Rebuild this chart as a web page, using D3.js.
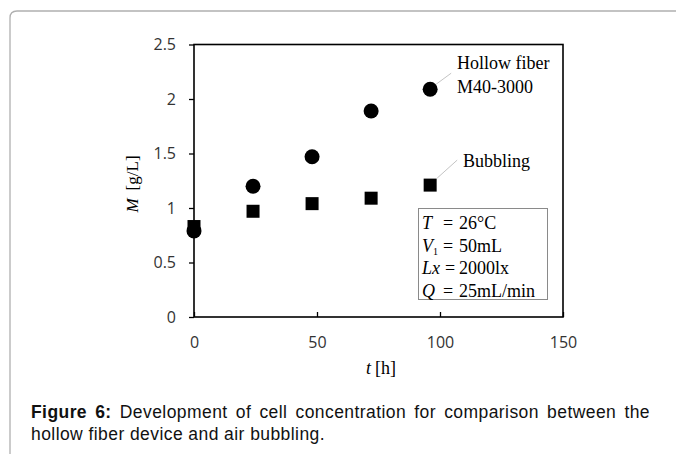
<!DOCTYPE html>
<html>
<head>
<meta charset="utf-8">
<script src="https://cdn.jsdelivr.net/npm/d3@7"></script>
<style>
  body { margin: 0; background: #fff; }
  svg { display: block; }
</style>
</head>
<body>
<svg></svg>
<script>
// hours
var hours = [0, 24, 48, 72, 96];
var hollowFiber = [0.79, 1.2, 1.47, 1.89, 2.09];
var bubbling = [0.83, 0.97, 1.04, 1.09, 1.21];
var xTicks = [0, 50, 100, 150];
var yTicks = [0, 0.5, 1, 1.5, 2, 2.5];
var conditions = [
  { v: "T", sub: "", val: "26\u00b0C" },
  { v: "V", sub: "1", val: "50mL" },
  { v: "Lx", sub: "", val: "2000lx" },
  { v: "Q", sub: "", val: "25mL/min" }
];

var width = 676, height = 454;
var svg = d3.select("svg").attr("width", width).attr("height", height);

// card border
svg.append("path")
  .attr("d", "M10,460 V18 Q10,11 17,11 H690")
  .attr("fill", "none")
  .attr("stroke", "#b0b0b0")
  .attr("stroke-width", 1.3);

var x = d3.scaleLinear().domain([0, 150]).range([194, 563]);
var y = d3.scaleLinear().domain([0, 2.5]).range([317, 44.5]);

var sans = "'Open Sans', 'DejaVu Sans', sans-serif";
var serif = "'Liberation Serif', 'Times New Roman', serif";

// frame
svg.append("rect")
  .attr("x", x(0)).attr("y", y(2.5))
  .attr("width", x(150) - x(0)).attr("height", y(0) - y(2.5))
  .attr("fill", "none").attr("stroke", "#000").attr("stroke-width", 1.6);

// y axis
var yAxis = svg.append("g")
  .attr("transform", "translate(" + x(0) + ",0)")
  .call(d3.axisLeft(y).tickValues(yTicks).tickSize(5).tickPadding(13)
    .tickFormat(d => String(d)));
yAxis.select(".domain").remove();
yAxis.selectAll("line").attr("stroke", "#000").attr("stroke-width", 1.3);
yAxis.selectAll("text").attr("font-family", sans).attr("font-size", 16)
  .attr("fill", "#333");

// x axis, ticks point inward
var xAxis = svg.append("g")
  .attr("transform", "translate(0," + y(0) + ")")
  .call(d3.axisBottom(x).tickValues(xTicks).tickSize(-5).tickPadding(20)
    .tickFormat(d => String(d)));
xAxis.select(".domain").remove();
xAxis.selectAll("line").attr("stroke", "#000").attr("stroke-width", 1.3);
xAxis.selectAll("text").attr("font-family", sans).attr("font-size", 16)
  .attr("fill", "#333");

// axis titles
var yt = svg.append("text")
  .attr("transform", "translate(138,184) rotate(-90)")
  .attr("text-anchor", "middle")
  .attr("font-family", serif).attr("font-size", 17);
yt.append("tspan").attr("font-style", "italic").text("M");
yt.append("tspan").attr("dx", 8).text("[g/L]");

var xt = svg.append("text")
  .attr("x", 381).attr("y", 374)
  .attr("text-anchor", "middle")
  .attr("font-family", serif).attr("font-size", 18);
xt.append("tspan").attr("font-style", "italic").text("t");
xt.append("tspan").attr("dx", 4).text("[h]");

// leader lines
svg.append("line")
  .attr("x1", x(96) + 6).attr("y1", y(2.09) - 5)
  .attr("x2", x(96) + 21).attr("y2", y(2.09) - 16)
  .attr("stroke", "#c4c4c4").attr("stroke-width", 1);
svg.append("line")
  .attr("x1", x(96) + 7).attr("y1", y(1.21) - 7)
  .attr("x2", x(96) + 27).attr("y2", y(1.21) - 25)
  .attr("stroke", "#c4c4c4").attr("stroke-width", 1);

// points
svg.append("g").selectAll("rect")
  .data(hours)
  .join("rect")
    .attr("x", (d, i) => x(d) - 6.5)
    .attr("y", (d, i) => y(bubbling[i]) - 6.5)
    .attr("width", 13).attr("height", 13)
    .attr("fill", "#000");

svg.append("g").selectAll("circle")
  .data(hours)
  .join("circle")
    .attr("cx", d => x(d))
    .attr("cy", (d, i) => y(hollowFiber[i]))
    .attr("r", 7.5)
    .attr("fill", "#000");

// series labels
svg.append("text").attr("x", 457).attr("y", 69)
  .attr("font-family", serif).attr("font-size", 18).text("Hollow fiber");
svg.append("text").attr("x", 457).attr("y", 93)
  .attr("font-family", serif).attr("font-size", 18).text("M40-3000");
svg.append("text").attr("x", 463).attr("y", 167)
  .attr("font-family", serif).attr("font-size", 18).text("Bubbling");

// conditions box
svg.append("rect")
  .attr("x", 418.5).attr("y", 208.5).attr("width", 129).attr("height", 91)
  .attr("fill", "#fff").attr("stroke", "#8a8a8a").attr("stroke-width", 1);

conditions.forEach(function(c, i) {
  var by = 229 + i * 22.5;
  var t = svg.append("text")
    .attr("x", 422).attr("y", by)
    .attr("font-family", serif).attr("font-size", 18);
  t.append("tspan").attr("font-style", "italic").text(c.v);
  if (c.sub) t.append("tspan").attr("font-size", 10).attr("dy", 3).text(c.sub);
  svg.append("text").attr("x", c.v === "Lx" ? 445 : 443).attr("y", by)
    .attr("font-family", serif).attr("font-size", 18).text("=");
  svg.append("text").attr("x", 459).attr("y", by)
    .attr("font-family", serif).attr("font-size", 18).text(c.val);
});

// caption, first line justified
var capFont = "'Liberation Sans', Arial, sans-serif";
var capLeft = 31, capRight = 650, capSize = 17.5;

var line2 = svg.append("text").attr("x", capLeft).attr("y", 440)
  .attr("font-family", capFont).attr("font-size", capSize)
  .attr("fill", "#111").text("hollow fiber device and air bubbling.");
var w2 = line2.node().getComputedTextLength();
var ls = (294 - w2) / line2.text().length;
line2.attr("letter-spacing", ls);

var cap = svg.append("text").attr("x", capLeft).attr("y", 418)
  .attr("font-family", capFont).attr("font-size", capSize)
  .attr("fill", "#111").attr("letter-spacing", ls);
cap.append("tspan").attr("font-weight", "bold").text("Figure 6:");
cap.append("tspan").text(" Development of cell concentration for comparison between the");
var w1 = cap.node().getComputedTextLength();
var nSpaces = 9;
cap.attr("word-spacing", Math.max(0, (capRight - capLeft - w1) / nSpaces));
</script>
</body>
</html>
